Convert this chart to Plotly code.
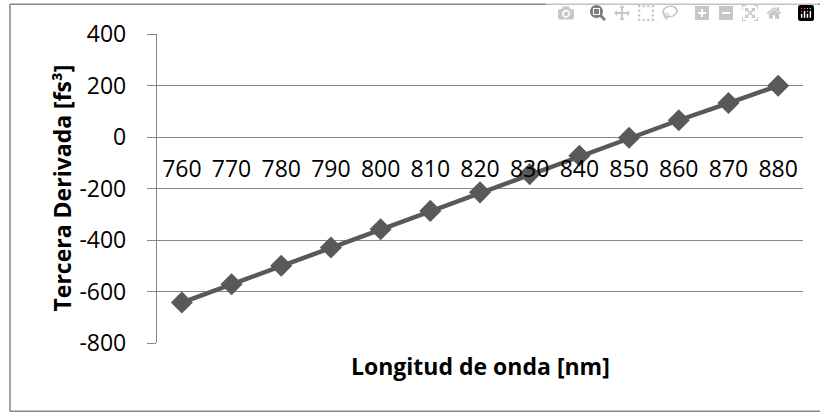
import plotly.graph_objects as go

# longitud de onda (nm) y tercera derivada (fs^3)
wavelength = ["760", "770", "780", "790", "800", "810", "820",
              "830", "840", "850", "860", "870", "880"]
tod = [-643, -572, -500, -429, -358, -287, -215, -144, -73, -3, 65, 132, 199]

y_ticks = [400, 200, 0, -200, -400, -600, -800]
y_labels = ["400", "200", "0", "-200", "-400", "-600", "-800"]

grid = "#868686"
serie = "#595959"
fuente = "Open Sans"
tam = 23

fig = go.Figure()
fig.add_trace(go.Scatter(
    x=wavelength, y=tod, mode="lines+markers",
    line=dict(color=serie, width=4.5),
    marker=dict(symbol="diamond", size=17, color=serie),
    showlegend=False, cliponaxis=False,
))

fig.update_layout(
    width=820, height=413,
    margin=dict(l=157, r=17, t=34, b=70),
    paper_bgcolor="white", plot_bgcolor="white",
    font=dict(family=fuente, size=tam, color="black"),
    xaxis=dict(
        type="category", range=[-0.5, 12.5],
        anchor="free", position=800 / 1200,
        showgrid=False, showline=False, zeroline=False,
        ticks="", ticklabelstandoff=16,
        tickfont=dict(size=tam),
    ),
    yaxis=dict(
        range=[-800, 400], tickvals=y_ticks, ticktext=y_labels,
        showgrid=True, gridcolor=grid, gridwidth=1.3,
        zeroline=True, zerolinecolor=grid, zerolinewidth=1.3,
        showline=True, linecolor=grid, linewidth=1.3,
        ticks="outside", ticklen=9, tickcolor=grid, tickwidth=1.3,
        ticklabelstandoff=16,
        tickfont=dict(size=tam),
    ),
)

fig.add_annotation(
    text="<b>Longitud de onda [nm]</b>", xref="paper", yref="paper",
    x=0.5, y=-0.073, xanchor="center", yanchor="middle", showarrow=False,
    font=dict(family=fuente, size=tam),
)
fig.add_annotation(
    text="<b>Tercera Derivada [fs³]</b>", xref="paper", yref="paper",
    x=-0.1486, y=0.5, xanchor="center", yanchor="middle", showarrow=False,
    textangle=-90, font=dict(family=fuente, size=tam),
)

# marco del gráfico: arriba, izquierda y abajo (sin borde derecho)
x0, x1, y0, y1 = -0.2276, 1.2, -0.221, 1.096
for a, b, c, d in [(x0, y1, x1, y1), (x0, y0, x1, y0), (x0, y0, x0, y1)]:
    fig.add_shape(type="line", xref="paper", yref="paper",
                  x0=a, y0=b, x1=c, y1=d,
                  line=dict(color=grid, width=1.5), layer="below")

# sin margen en el body ni barras de desplazamiento
fig.write_html(
    "out.html",
    post_script="document.body.style.margin='0';"
                "document.body.style.overflow='hidden';",
)
